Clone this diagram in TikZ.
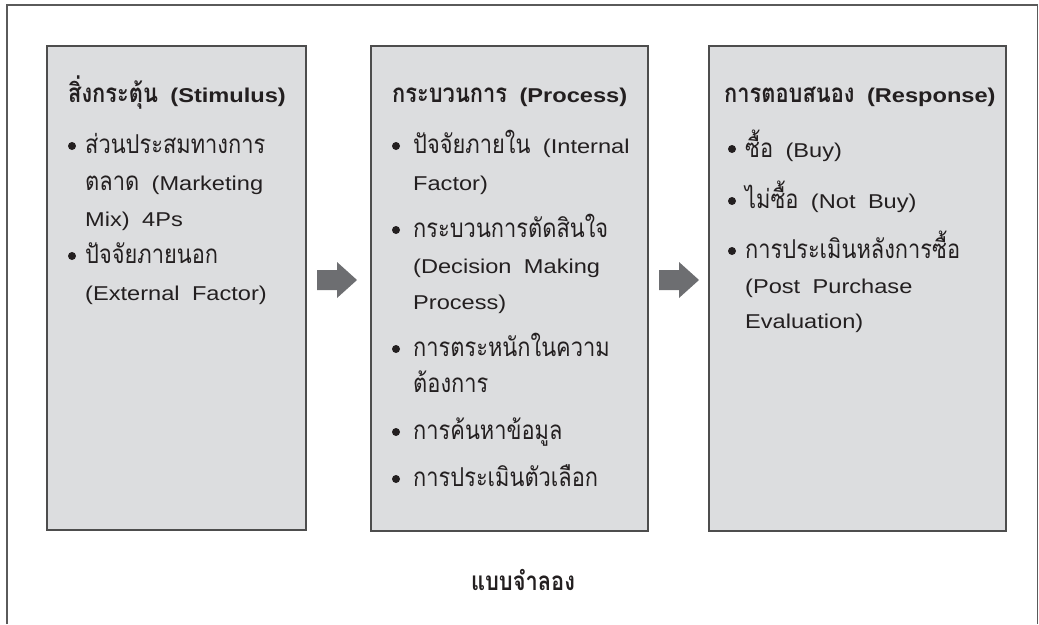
\documentclass[tikz,border=0pt]{standalone}
\usepackage{fontspec}
\setmainfont{Liberation Sans}[FakeStretch=1.18,WordSpace=1.9]
\newfontfamily\thaifont[Script=Thai,Scale=1.3,FakeStretch=0.84]{Loma}
\newcommand{\T}[1]{{\thaifont #1}}
\definecolor{boxfill}{HTML}{DCDDDF}
\definecolor{boxline}{HTML}{4D4D4D}
\definecolor{arrowgray}{HTML}{6D6E71}
\definecolor{ink}{HTML}{231F20}
\definecolor{framegray}{HTML}{5A5A5A}
\begin{document}
\begin{tikzpicture}[x=1pt,y=-1pt,
  box/.style={draw=boxline, line width=1.5pt, fill=boxfill, inner sep=0pt, anchor=north west},
  txt/.style={anchor=base west, inner sep=0pt, text=ink, font=\fontsize{20}{24}\selectfont},
  ttl/.style={txt, font=\fontsize{20}{24}\selectfont\bfseries},
  dot/.style={circle, fill=ink, inner sep=0pt, minimum size=8pt},
  fatarrow/.style={fill=arrowgray}]
\useasboundingbox (0,0) rectangle (1039,624);
\draw[framegray, line width=1.3pt] (7,624) -- (7,5) -- (1037.5,5) -- (1037.5,624);
% boxes
\node[box, minimum width=259pt, minimum height=484pt] (s) at (46,45) {};
\node[box, minimum width=277pt, minimum height=485pt] (p) at (370,45) {};
\node[box, minimum width=297pt, minimum height=485pt] (r) at (708,45) {};
% arrows
\coordinate (a1) at (317,280);
\coordinate (a2) at (659,280);
\foreach \a in {a1,a2}{
  \fill[fatarrow] (\a) ++(0,-10) -- ++(20,0) -- ++(0,-8) -- ++(20,18) -- ++(-20,18) -- ++(0,-8) -- ++(-20,0) -- cycle;
}
% box 1
\node[ttl] (s0) at (68,102) {\T{สิ่งกระตุ้น} (Stimulus)};
\node[dot] (sd1) at (72,146) {};
\node[txt] (s1) at (85,153) {\T{ส่วนประสมทางการ}};
\node[txt] (s2) at (85,190) {\T{ตลาด} (Marketing};
\node[txt] (s3) at (85,226) {Mix) 4Ps};
\node[dot] (sd2) at (72,256) {};
\node[txt] (s4) at (85,263) {\T{ปัจจัยภายนอก}};
\node[txt] (s5) at (85,300) {(External Factor)};
% box 2
\node[ttl] (p0) at (392,102) {\T{กระบวนการ} (Process)};
\node[dot] (pd1) at (396,146) {};
\node[txt] (p1) at (413,153) {\T{ปัจจัยภายใน} (Internal};
\node[txt] (p2) at (413,190) {Factor)};
\node[dot] (pd2) at (396,230) {};
\node[txt] (p3) at (413,237) {\T{กระบวนการตัดสินใจ}};
\node[txt] (p4) at (413,273) {(Decision Making};
\node[txt] (p5) at (413,309) {Process)};
\node[dot] (pd3) at (396,349) {};
\node[txt] (p6) at (413,356) {\T{การตระหนักในความ}};
\node[txt] (p7) at (413,392) {\T{ต้องการ}};
\node[dot] (pd4) at (396,432) {};
\node[txt] (p8) at (413,439) {\T{การค้นหาข้อมูล}};
\node[dot] (pd5) at (396,479) {};
\node[txt] (p9) at (413,486) {\T{การประเมินตัวเลือก}};
% box 3
\node[ttl] (r0) at (724,102) {\T{การตอบสนอง} (Response)};
\node[dot] (rd1) at (732,149) {};
\node[txt] (r1) at (745,157) {\T{ซื้อ} (Buy)};
\node[dot] (rd2) at (732,201) {};
\node[txt] (r2) at (745,208) {\T{ไม่ซื้อ} (Not Buy)};
\node[dot] (rd3) at (732,251) {};
\node[txt] (r3) at (745,258) {\T{การประเมินหลังการซื้อ}};
\node[txt] (r4) at (745,293) {(Post Purchase};
\node[txt] (r5) at (745,328) {Evaluation)};
% caption
\node[ttl, anchor=base] (cap) at (523,590) {\T{แบบจำลอง}};
\end{tikzpicture}
\end{document}
